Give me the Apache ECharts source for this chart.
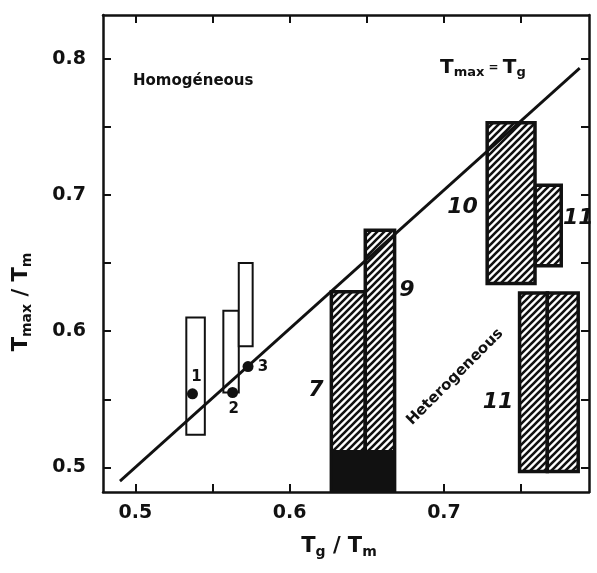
<!DOCTYPE html>
<html>
<head>
<meta charset="utf-8">
<script src="https://cdn.jsdelivr.net/npm/echarts@6.0.0/dist/echarts.min.js"></script>
<style>
  html, body { margin: 0; padding: 0; background: #fff; }
  #chart { width: 597px; height: 573px; }
</style>
</head>
<body>
<div id="chart"></div>
<script>
// open boxes (homogeneous)  [x0, x1, yLow, yHigh]
const openBoxes = [
  [0.533, 0.545, 0.524, 0.610],
  [0.557, 0.567, 0.555, 0.615],
  [0.567, 0.576, 0.589, 0.650]
]
// hatched boxes (heterogeneous)
const hatchBoxes = [
  [0.627, 0.649, 0.482, 0.629],
  [0.649, 0.668, 0.482, 0.674],
  [0.759, 0.776, 0.648, 0.707],
  [0.728, 0.759, 0.635, 0.753],
  [0.749, 0.767, 0.497, 0.628],
  [0.767, 0.787, 0.497, 0.628]
]
// ink-filled bottom of boxes 7 / 9
const darkBase = [[0.627, 0.668, 0.482, 0.512]]

const pointNames = ['1', '2', '3']
const pointX = [0.537, 0.563, 0.573]
const pointY = [0.554, 0.555, 0.574]

// Tmax = Tg line
const lineX = [0.49, 0.788]
const lineY = [0.49, 0.793]

const boxLabels = ['7', '9', '10', '11', '11']
const boxLabelX = [0.617, 0.676, 0.712, 0.787, 0.735]
const boxLabelY = [0.557, 0.630, 0.691, 0.683, 0.548]

const xTicks = [0.5, 0.55, 0.6, 0.65, 0.7, 0.75]
const xTickLabels = [0.5, 0.6, 0.7]
const yTicks = [0.5, 0.55, 0.6, 0.65, 0.7, 0.75, 0.8]
const yTickLabels = [0.5, 0.6, 0.7, 0.8]

const INK = '#111'
const FONT = 'DejaVu Sans'

function makeHatch() {
  const c = document.createElement('canvas')
  c.width = 7
  c.height = 7
  const g = c.getContext('2d')
  g.fillStyle = '#fff'
  g.fillRect(0, 0, 7, 7)
  g.strokeStyle = INK
  g.lineWidth = 2.6
  g.beginPath()
  g.moveTo(-1, 8); g.lineTo(8, -1)
  g.moveTo(-1, 1); g.lineTo(1, -1)
  g.moveTo(6, 8); g.lineTo(8, 6)
  g.stroke()
  return c
}
const hatch = { image: makeHatch(), repeat: 'repeat' }

function boxRender(fill, stroke, lw) {
  return function (params, api) {
    const p0 = api.coord([api.value(0), api.value(3)])
    const p1 = api.coord([api.value(1), api.value(2)])
    return {
      type: 'rect',
      shape: { x: p0[0], y: p0[1], width: p1[0] - p0[0], height: p1[1] - p0[1] },
      style: { fill: fill, stroke: stroke, lineWidth: lw }
    }
  }
}

const tickStyle = { show: true, inside: true, length: 8, lineStyle: { color: INK, width: 2 } }
const lineStyleAx = { show: true, onZero: false, lineStyle: { color: INK, width: 2.5 } }
const labelStyle = { color: INK, fontFamily: FONT, fontWeight: 'bold', fontSize: 19 }

const xBase = {
  type: 'value', min: 0.479, max: 0.794,
  axisLine: lineStyleAx,
  axisTick: Object.assign({ customValues: xTicks }, tickStyle),
  splitLine: { show: false }
}
const yBase = {
  type: 'value', min: 0.482, max: 0.832,
  axisLine: lineStyleAx,
  axisTick: Object.assign({ customValues: yTicks }, tickStyle),
  splitLine: { show: false }
}

const chart = echarts.init(document.getElementById('chart'))
const option = {
  backgroundColor: '#fff',
  animation: false,
  grid: { left: 103, right: 8, top: 15, bottom: 81, outerBoundsMode: 'none' },
  xAxis: [
    Object.assign({}, xBase, {
      position: 'bottom',
      axisLabel: Object.assign({ customValues: xTickLabels, margin: 12,
        formatter: (v) => Number(v).toFixed(1) }, labelStyle)
    }),
    Object.assign({}, xBase, { position: 'top', axisLabel: { show: false } })
  ],
  yAxis: [
    Object.assign({}, yBase, {
      position: 'left',
      axisLabel: Object.assign({ customValues: yTickLabels, margin: 17,
        formatter: (v) => Number(v).toFixed(1) }, labelStyle)
    }),
    Object.assign({}, yBase, { position: 'right', axisLabel: { show: false } })
  ],
  graphic: [
    { type: 'text', left: 133, top: 74, style: { text: 'Homogéneous', fill: INK,
      font: 'bold 15px "DejaVu Sans"' } },
    { type: 'text', left: 440, top: 58, style: {
      text: '{t|T}{s|max}{e| = }{t|T}{s|g}', fill: INK,
      rich: {
        t: { fontSize: 20, fontWeight: 'bold', fontFamily: FONT, color: INK },
        s: { fontSize: 13, fontWeight: 'bold', fontFamily: FONT, color: INK, padding: [10, 0, 0, 0] },
        e: { fontSize: 12, fontWeight: 'bold', fontFamily: FONT, color: INK }
      } } },
    { type: 'text', x: 455, y: 377, rotation: Math.PI / 4, style: {
      text: 'Heterogeneous', fill: INK, font: 'bold 15px "DejaVu Sans"',
      align: 'center', verticalAlign: 'middle' } },
    { type: 'text', x: 22, y: 302, rotation: Math.PI / 2, style: {
      text: '{t|T}{s|max}{t| / T}{s|m}', fill: INK, align: 'center', verticalAlign: 'middle',
      rich: {
        t: { fontSize: 21, fontWeight: 'bold', fontFamily: FONT, color: INK },
        s: { fontSize: 14, fontWeight: 'bold', fontFamily: FONT, color: INK, padding: [10, 0, 0, 0] }
      } } },
    { type: 'text', x: 339, y: 547, style: {
      text: '{t|T}{s|g}{t| / T}{s|m}', fill: INK, align: 'center', verticalAlign: 'middle',
      rich: {
        t: { fontSize: 21, fontWeight: 'bold', fontFamily: FONT, color: INK },
        s: { fontSize: 14, fontWeight: 'bold', fontFamily: FONT, color: INK, padding: [10, 0, 0, 0] }
      } } }
  ],
  series: [
    {
      type: 'custom', name: 'open', z: 2,
      renderItem: boxRender('#fff', INK, 2),
      data: openBoxes
    },
    {
      type: 'custom', name: 'hatched', z: 2, clip: true,
      renderItem: boxRender(hatch, INK, 3.5),
      data: hatchBoxes
    },
    {
      type: 'custom', name: 'dark', z: 3, clip: true,
      renderItem: boxRender(INK, INK, 2),
      data: darkBase
    },
    {
      type: 'line', z: 4, symbol: 'none',
      lineStyle: { color: INK, width: 2.8 },
      data: lineX.map((x, i) => [x, lineY[i]])
    },
    {
      type: 'scatter', z: 5, symbol: 'circle', symbolSize: 11,
      itemStyle: { color: INK, opacity: 1 },
      label: { show: true, formatter: '{b}', color: INK, fontFamily: FONT,
        fontWeight: 'bold', fontSize: 15 },
      data: pointNames.map((n, i) => {
        const off = [[4, -17], [1, 17], [15, 0]][i]
        return { name: n, value: [pointX[i], pointY[i]],
          label: { position: 'inside', offset: off } }
      })
    },
    {
      type: 'scatter', z: 6, symbolSize: 0, silent: true,
      itemStyle: { opacity: 1 },
      label: { show: true, position: 'inside', formatter: '{b}', color: INK,
        fontFamily: FONT, fontWeight: 'bold', fontStyle: 'italic', fontSize: 22 },
      data: boxLabels.map((n, i) => ({ name: n, value: [boxLabelX[i], boxLabelY[i]] }))
    }
  ]
}
chart.setOption(option)
</script>
</body>
</html>
